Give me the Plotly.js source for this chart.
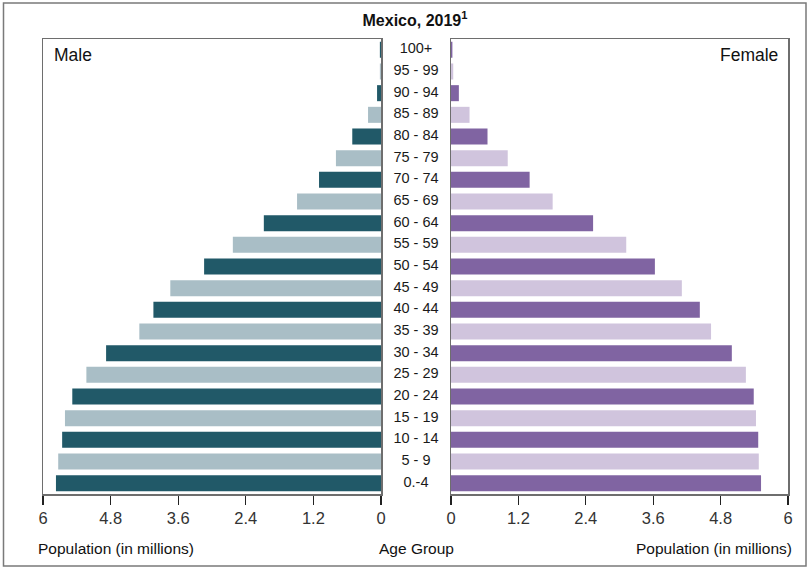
<!DOCTYPE html>
<html>
<head>
<meta charset="utf-8">
<script src="https://cdn.plot.ly/plotly-3.0.1.min.js"></script>
<style>html,body{margin:0;padding:0;background:#fff;}#chart{width:810px;height:569px;}</style>
</head>
<body>
<div id="chart"></div>
<script>
// Age groups, bottom to top
const ageGroups = ['0.-4','5 - 9','10 - 14','15 - 19','20 - 24','25 - 29','30 - 34','35 - 39','40 - 44','45 - 49','50 - 54','55 - 59','60 - 64','65 - 69','70 - 74','75 - 79','80 - 84','85 - 89','90 - 94','95 - 99','100+'];
// Population in millions
const maleValues = [5.77,5.73,5.66,5.61,5.48,5.23,4.88,4.29,4.04,3.74,3.14,2.63,2.08,1.49,1.10,0.80,0.51,0.23,0.07,0.02,0.02];
const femaleValues = [5.52,5.48,5.47,5.43,5.39,5.25,5.00,4.63,4.43,4.11,3.63,3.12,2.53,1.81,1.40,1.01,0.65,0.33,0.14,0.04,0.025];
const tickValues = [0,1.2,2.4,3.6,4.8,6];
const tickLabels = ['0','1.2','2.4','3.6','4.8','6'];

const maleColors = ageGroups.map((_, i) => i % 2 === 0 ? '#215968' : '#a9bec6');
const femaleColors = ageGroups.map((_, i) => i % 2 === 0 ? '#8064a2' : '#d0c4dd');

const FONT = '"Liberation Sans Narrow", "Arial Narrow", "Liberation Sans", Arial, sans-serif';
const W = 810, H = 569, L = 43, R = 22, T = 39, B = 75;
const pw = W - L - R, ph = H - T - B;
const px = x => (x - L) / pw;
const py = y => (H - B - y) / ph;

const traces = [
  {type:'bar', orientation:'h', y:ageGroups, x:maleValues, xaxis:'x', yaxis:'y',
   marker:{color:maleColors}, width:0.74, hoverinfo:'x+y', showlegend:false},
  {type:'bar', orientation:'h', y:ageGroups, x:femaleValues, xaxis:'x2', yaxis:'y2',
   marker:{color:femaleColors}, width:0.74, hoverinfo:'x+y', showlegend:false},
  {type:'scatter', mode:'text', y:ageGroups, x:ageGroups.map(() => 0), text:ageGroups,
   xaxis:'x3', yaxis:'y3', textfont:{family:FONT, size:14.5, color:'#1a1a1a'},
   textposition:'middle center', hoverinfo:'skip', showlegend:false}
];

const xBase = {
  tickvals: tickValues, ticktext: tickLabels, ticks:'outside', ticklen:9, tickwidth:1.3,
  tickcolor:'#222', showgrid:false, zeroline:false, showline:true, mirror:true,
  linecolor:'#6e6e6e', linewidth:1.5, tickfont:{family:FONT, size:16.5, color:'#333'}, fixedrange:true
};
const yBase = {
  type:'category', categoryorder:'array', categoryarray:ageGroups, range:[-0.5,20.5],
  showticklabels:false, ticks:'', showgrid:false, zeroline:false, showline:true, mirror:true,
  linecolor:'#6e6e6e', linewidth:1.5, fixedrange:true
};

const layout = {
  width:W, height:H, paper_bgcolor:'#fff', plot_bgcolor:'#fff',
  margin:{l:L, r:R, t:T, b:B, pad:0},
  font:{family:FONT, color:'#1a1a1a'},
  title:{text:'<b>Mexico, 2019<sup>1</sup></b>', font:{family:FONT, size:16, color:'#111'},
         x:px(415), xanchor:'center', xref:'paper', y:1 - 20/H, yref:'container', yanchor:'middle'},
  xaxis: Object.assign({}, xBase, {domain:[0, px(381)], range:[6,0], anchor:'y'}),
  xaxis2: Object.assign({}, xBase, {domain:[px(451), 1], range:[0,6], anchor:'y2'}),
  xaxis3: {domain:[px(381), px(451)], range:[-1,1], visible:false, anchor:'y3', fixedrange:true},
  yaxis: Object.assign({}, yBase, {anchor:'x'}),
  yaxis2: Object.assign({}, yBase, {anchor:'x2'}),
  yaxis3: Object.assign({}, yBase, {anchor:'x3', visible:false, showline:false}),
  bargap:0.26,
  annotations:[
    {text:'Male', xref:'paper', yref:'paper', x:px(52), y:py(55), xanchor:'left', yanchor:'middle',
     showarrow:false, font:{family:FONT, size:17.5, color:'#111'}},
    {text:'Female', xref:'paper', yref:'paper', x:px(780), y:py(55), xanchor:'right', yanchor:'middle',
     showarrow:false, font:{family:FONT, size:17.5, color:'#111'}},
    {text:'Population (in millions)', xref:'paper', yref:'paper', x:px(36), y:py(548), xanchor:'left', yanchor:'middle',
     showarrow:false, font:{family:FONT, size:15.5, color:'#111'}},
    {text:'Population (in millions)', xref:'paper', yref:'paper', x:px(794), y:py(548), xanchor:'right', yanchor:'middle',
     showarrow:false, font:{family:FONT, size:15.5, color:'#111'}},
    {text:'Age Group', xref:'paper', yref:'paper', x:px(416), y:py(548), xanchor:'center', yanchor:'middle',
     showarrow:false, font:{family:FONT, size:15.5, color:'#111'}}
  ],
  shapes:[
    {type:'rect', xref:'paper', yref:'paper', x0:px(3.5), x1:px(806), y0:py(566), y1:py(3),
     line:{color:'#7a7a7a', width:1.5}, fillcolor:'rgba(0,0,0,0)', layer:'below'}
  ]
};

Plotly.newPlot('chart', traces, layout, {displayModeBar:false, staticPlot:true});
</script>
</body>
</html>
